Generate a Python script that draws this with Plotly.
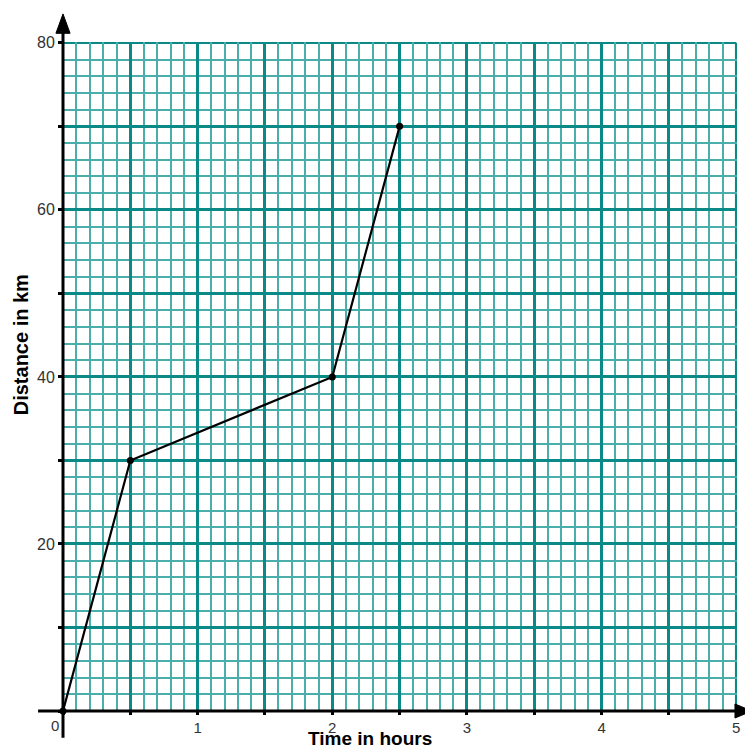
import plotly.graph_objects as go

time_hours = [0, 0.5, 2, 2.5]
distance_km = [0, 30, 40, 70]

x_tickvals = [0, 0.5, 1, 1.5, 2, 2.5, 3, 3.5, 4, 4.5, 5]
x_ticktext = ["", "", "1", "", "2", "", "3", "", "4", "", "5"]
y_tickvals = [0, 10, 20, 30, 40, 50, 60, 70, 80]
y_ticktext = ["", "", "20", "", "40", "", "60", "", "80"]
x_minor_step = 0.1
y_minor_step = 2

major = "#0a8a86"
minor = "#4aaeaa"
font = "Liberation Sans, Arial, sans-serif"

W = H = 745
x_range = [0, 5.006]
y_range = [0, 80.1]

fig = go.Figure()
# invisible copy on the fine-grid axes so that subplot is drawn
fig.add_trace(go.Scatter(
    x=time_hours, y=distance_km, mode="lines", opacity=0,
    hoverinfo="skip", showlegend=False, xaxis="x", yaxis="y",
))
fig.add_trace(go.Scatter(
    x=time_hours, y=distance_km, mode="lines+markers",
    line=dict(color="black", width=2.2),
    marker=dict(color="black", size=7),
    cliponaxis=False, showlegend=False, xaxis="x2", yaxis="y2",
))

fig.update_layout(
    width=W, height=H,
    margin=dict(l=55, r=16, t=34, b=42, autoexpand=False),
    plot_bgcolor="white", paper_bgcolor="white",
    font=dict(family=font, size=14, color="#333"),
    xaxis=dict(
        range=x_range, tickmode="linear", tick0=0, dtick=x_minor_step,
        showgrid=True, gridcolor=minor, gridwidth=1.5,
        showticklabels=False, ticks="", zeroline=False, showline=False, fixedrange=True,
    ),
    yaxis=dict(
        range=y_range, tickmode="linear", tick0=0, dtick=y_minor_step,
        showgrid=True, gridcolor=minor, gridwidth=1.5,
        showticklabels=False, ticks="", zeroline=False, showline=False, fixedrange=True,
    ),
    xaxis2=dict(
        overlaying="x", anchor="y2", side="bottom",
        range=x_range, tickmode="array", tickvals=x_tickvals, ticktext=x_ticktext,
        showgrid=True, gridcolor=major, gridwidth=2.5,
        ticks="outside", ticklen=3, tickwidth=3, tickcolor="black",
        zeroline=False, showline=False, fixedrange=True,
        tickfont=dict(size=15, color="#333"),
    ),
    yaxis2=dict(
        overlaying="y", anchor="x2", side="left",
        range=y_range, tickmode="array", tickvals=y_tickvals, ticktext=y_ticktext,
        showgrid=True, gridcolor=major, gridwidth=2.5,
        ticks="outside", ticklen=4, tickwidth=3, tickcolor="black",
        zeroline=False, showline=False, fixedrange=True,
        tickfont=dict(size=16, color="#333"),
    ),
)

# outer grid lines at the top and right ends of the scales
fig.add_shape(type="line", xref="x2", yref="y2", layer="below",
              x0=x_tickvals[0], x1=x_tickvals[-1], y0=y_tickvals[-1], y1=y_tickvals[-1],
              line=dict(color=major, width=2.5))
fig.add_shape(type="line", xref="x2", yref="y2", layer="below",
              x0=x_tickvals[-1], x1=x_tickvals[-1], y0=y_tickvals[0], y1=y_tickvals[-1],
              line=dict(color=major, width=2.5))

fig.add_shape(type="line", xref="paper", yref="paper",
              x0=-0.037, x1=1.005, y0=0, y1=0, line=dict(color="black", width=3))
fig.add_shape(type="line", xref="paper", yref="paper",
              x0=0, x1=0, y0=-0.040, y1=1.02, line=dict(color="black", width=3))
fig.add_shape(type="path", xref="paper", yref="paper",
              path="M 0,1.042 L -0.0105,1.013 L 0.0105,1.013 Z",
              fillcolor="black", line=dict(color="black", width=1))
fig.add_shape(type="path", xref="paper", yref="paper",
              path="M 1.022,0 L 0.997,0.0105 L 0.997,-0.0105 Z",
              fillcolor="black", line=dict(color="black", width=1))

fig.add_annotation(text="0", xref="paper", yref="paper", x=-0.012, y=-0.006,
                   xanchor="center", yanchor="top", showarrow=False,
                   font=dict(size=15, color="#333", family=font))
fig.add_annotation(text="<b>Time in hours</b>", xref="paper", yref="paper",
                   x=0.455, y=-0.0605, xanchor="center", yanchor="bottom",
                   showarrow=False, font=dict(size=19, color="black", family=font))
fig.add_annotation(text="<b>Distance in km</b>", xref="paper", yref="paper",
                   x=-0.062, y=0.547, xanchor="center", yanchor="middle", textangle=-90,
                   showarrow=False, font=dict(size=20, color="black", family=font))

fig.write_html("out.html")
